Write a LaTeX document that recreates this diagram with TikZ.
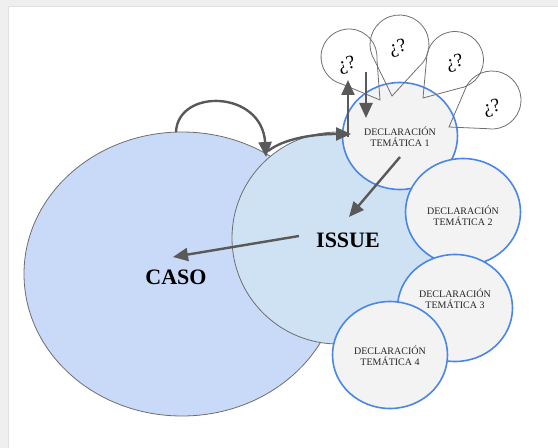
\documentclass[tikz,border=0pt]{standalone}
\usepackage{fontspec}
\setmainfont{Liberation Serif}
\usetikzlibrary{shapes.geometric,arrows.meta,calc}
\definecolor{casofill}{HTML}{C9DAF8}
\definecolor{issuefill}{HTML}{CFE2F3}
\definecolor{dtfill}{HTML}{F3F3F3}
\definecolor{dtblue}{HTML}{4A86E8}
\definecolor{rim}{HTML}{6E6E6E}
\definecolor{arrowgray}{HTML}{595959}
\definecolor{bubblegray}{HTML}{707070}
\definecolor{framegray}{HTML}{EFEFEF}
\begin{document}
\begin{tikzpicture}[x=1pt,y=1pt,
  bigcircle/.style={ellipse, draw=rim, line width=0.8pt, inner sep=0pt},
  dtcircle/.style={ellipse, draw=dtblue, line width=1.6pt, fill=dtfill,
    minimum width=115pt, minimum height=107pt, inner sep=0pt},
  dtlabel/.style={align=center, font=\fontsize{10}{11.5}\selectfont, text=black!85},
  biglabel/.style={font=\fontsize{22}{24}\selectfont\bfseries},
  flow/.style={draw=arrowgray, line width=2.4pt, -{Triangle[length=15pt,width=13pt]}},
  bubble/.style={draw=bubblegray, line width=0.8pt},
  query/.style={font=\fontsize{19}{21}\selectfont, rotate=15, inner sep=0pt},
]
\useasboundingbox (0,0) rectangle (558,448);
% page frame
\fill[framegray] (0,0) rectangle (558,448);
\fill[white] (9,0) rectangle (558,441);
\draw[black!12, line width=1pt] (8.5,0) -- (8.5,441.5) -- (558,441.5);

% main areas
\node[bigcircle, fill=casofill, minimum width=316pt, minimum height=284pt] (caso) at (182,174) {};
\node[bigcircle, fill=issuefill, minimum width=212pt, minimum height=212pt] (issue) at (338,210) {};
\node[biglabel] (casolbl) at (176,171) {CASO};
\node[biglabel] (issuelbl) at (348,208) {ISSUE};

% thematic statements
\node[dtcircle] (dt1) at (400,312) {};
\node[dtcircle] (dt2) at (463,236) {};
\node[dtcircle] (dt3) at (455,140) {};
\node[dtcircle] (dt4) at (390,93) {};
\node[dtlabel] (dt1lbl) at (400,311) {DECLARACIÓN\\TEMÁTICA 1};
\node[dtlabel] (dt2lbl) at (463,232) {DECLARACIÓN\\TEMÁTICA 2};
\node[dtlabel] (dt3lbl) at (455,149) {DECLARACIÓN\\TEMÁTICA 3};
\node[dtlabel] (dt4lbl) at (390,92) {DECLARACIÓN\\TEMÁTICA 4};

% question bubbles: circle centre, tail tip
\coordinate (qc1) at (349,391);   \coordinate (qt1) at (380,348);
\coordinate (qc2) at (399.5,403.5); \coordinate (qt2) at (392,352);
\coordinate (qc3) at (455,388);   \coordinate (qt3) at (423,350);
\coordinate (qc4) at (492,348);   \coordinate (qt4) at (449,321);
\foreach \i/\r in {1/28,2/29.5,3/28.5,4/29} {
  \draw[bubble] let \p1=($(qt\i)-(qc\i)$), \n1={atan2(\y1,\x1)} in
    ($(qc\i)+(\n1+50:\r)$) arc[start angle=\n1+50, end angle=\n1+310, radius=\r]
    -- (qt\i) -- cycle;
}
\node[query] (q1) at (347,383) {¿?};
\node[query] (q2) at (398,400) {¿?};
\node[query] (q3) at (455,385) {¿?};
\node[query] (q4) at (492,340) {¿?};

% connectors
\coordinate (casotop) at (176,316);
\coordinate (junc) at (266,291);
\coordinate (juncout) at (268,297);
\coordinate (dt1in) at (351,314);
\coordinate (upbase) at (348,311);
\coordinate (uptip) at (348,368);
\coordinate (downtop) at (366,376);
\coordinate (downtip) at (366,330);
\coordinate (dt1out) at (400,291);
\coordinate (issuein) at (349,231);
\coordinate (issueout) at (299,212);
\coordinate (casoin) at (173,191);

\draw[flow] (casotop) .. controls (178,360) and (262,358) .. (junc);
\draw[flow] (juncout) .. controls (285,310) and (315,314) .. (dt1in);
\draw[flow] (upbase) -- (uptip);
\draw[flow] (downtop) -- (downtip);
\draw[flow] (dt1out) -- (issuein);
\draw[flow] (issueout) -- (casoin);
\end{tikzpicture}
\end{document}
